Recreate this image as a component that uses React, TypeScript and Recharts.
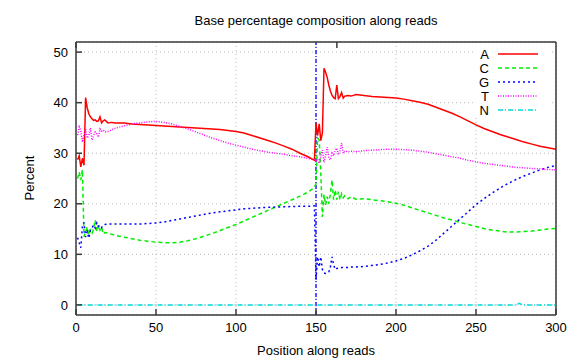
import React from 'react';
import { LineChart, Line, XAxis, YAxis, CartesianGrid, ReferenceLine, Legend } from 'recharts';

// positions along the read (dense where the curves are noisy)
const positions = [
  1, 2, 3, 4, 5, 6, 7, 8, 9, 10, 11, 12, 13, 14, 15, 16, 17, 18, 20, 22, 25,
  30, 35, 40, 45, 50, 55, 60, 65, 70, 75, 80, 85, 90, 95, 100, 105, 110, 115, 120, 125, 130, 135, 140, 145, 149,
  150, 151, 152, 153, 154, 155, 156, 157, 158, 159, 160, 161, 162, 163, 164, 165, 166, 167, 168, 170, 172, 175,
  180, 185, 190, 195, 200, 205, 210, 215, 220, 225, 230, 235, 240, 245, 250, 255, 260, 265, 270, 275, 280, 285, 290, 295, 300,
];

const aValues = [
  28.7, 29.5, 27.3, 29.0, 27.6, 41.0, 39.0, 37.8, 37.2, 36.8, 36.5, 36.6, 36.3, 36.4, 37.2, 36.0, 36.4, 36.6, 36.0, 36.1, 36.0,
  36.0, 35.8, 35.7, 35.6, 35.5, 35.4, 35.3, 35.2, 35.1, 35.0, 34.9, 34.8, 34.7, 34.5, 34.3, 34.0, 33.5, 33.0, 32.5, 32.0, 31.4, 30.8, 30.0, 29.3, 28.6,
  36.0, 33.5, 35.8, 32.5, 34.0, 46.8, 46.0, 45.0, 43.5, 42.3, 41.5, 41.0, 40.8, 43.5, 40.8, 41.2, 42.0, 40.9, 41.3, 41.4, 41.3, 41.6,
  41.4, 41.2, 41.1, 41.0, 40.9, 40.7, 40.4, 40.1, 39.7, 39.1, 38.5, 37.9, 37.2, 36.4, 35.6, 34.9, 34.3, 33.7, 33.2, 32.7, 32.2, 31.8, 31.4, 31.1, 30.8,
];

const cValues = [
  25.0, 26.3, 24.7, 26.7, 13.5, 14.4, 15.4, 13.8, 14.8, 14.2, 15.0, 16.8, 14.5, 15.8, 14.8, 15.4, 14.0, 14.3, 14.2, 14.0, 13.7,
  13.4, 13.1, 12.8, 12.6, 12.4, 12.3, 12.3, 12.4, 12.7, 13.1, 13.6, 14.1, 14.7, 15.3, 15.9, 16.6, 17.3, 18.0, 18.7, 19.4, 20.1, 20.8, 21.5, 22.3, 23.2,
  24.0, 33.0, 32.6, 26.0, 17.4, 21.8, 19.8, 21.4, 20.0, 22.0, 24.7, 20.8, 22.7, 20.8, 22.4, 20.8, 22.0, 21.2, 21.6, 21.0, 21.4, 20.9,
  21.0, 20.8, 20.6, 20.4, 20.1, 19.7, 19.2, 18.7, 18.2, 17.7, 17.2, 16.8, 16.3, 15.9, 15.5, 15.1, 14.8, 14.6, 14.4, 14.4, 14.5, 14.6, 14.8, 15.0, 15.1,
];

const gValues = [
  13.3, 12.3, 11.3, 15.5, 16.3, 13.4, 14.5, 13.2, 14.8, 15.2, 15.8, 15.2, 16.2, 15.5, 15.8, 15.3, 15.8, 15.9, 16.0, 16.0, 16.0,
  16.0, 16.0, 16.0, 16.1, 16.2, 16.4, 16.7, 17.0, 17.3, 17.6, 17.9, 18.2, 18.4, 18.6, 18.8, 19.0, 19.1, 19.2, 19.3, 19.35, 19.4, 19.45, 19.5, 19.5, 19.6,
  5.0, 9.5, 7.5, 9.5, 7.0, 6.3, 6.2, 6.3, 6.5, 7.5, 9.5, 8.0, 7.0, 7.2, 7.3, 7.3, 7.4, 7.4, 7.4, 7.4, 7.5, 7.5,
  7.6, 7.8, 8.0, 8.3, 8.7, 9.2, 9.9, 10.7, 11.6, 12.8, 14.2, 15.6, 17.0, 18.4, 19.8, 21.0, 22.1, 23.1, 24.0, 24.8, 25.5, 26.1, 26.7, 27.2, 27.6,
];

const tValues = [
  33.6, 35.2, 34.5, 32.2, 33.6, 34.8, 33.0, 33.5, 35.0, 32.6, 33.5, 34.2, 33.8, 33.2, 34.8, 34.4, 34.6, 34.2, 34.3, 34.6, 35.0,
  35.4, 35.8, 36.0, 36.2, 36.3, 36.1, 35.8, 35.3, 34.8, 34.2, 33.6, 33.0, 32.5, 32.0, 31.6, 31.2, 30.8, 30.5, 30.2, 30.0, 29.8, 29.5, 29.3, 29.0, 28.7,
  28.5, 28.8, 28.0, 29.5, 30.6, 28.2, 29.5, 31.2, 29.0, 28.7, 30.0, 29.5, 30.5, 31.0, 29.7, 30.5, 32.0, 30.0, 30.4, 30.3, 30.4, 30.3,
  30.5, 30.6, 30.7, 30.8, 30.8, 30.7, 30.6, 30.4, 30.2, 29.9, 29.6, 29.3, 29.0, 28.6, 28.3, 28.0, 27.8, 27.6, 27.4, 27.2, 27.1, 27.0, 26.9, 26.8, 26.7,
];

const nPositions = [1, 275, 277, 279, 300];
const nValues = [0, 0, 0.3, 0, 0];

const xTicks = [0, 50, 100, 150, 200, 250, 300];
const yTicks = [0, 10, 20, 30, 40, 50];

const series = [
  { key: 'A', color: '#ff0000', dash: undefined },
  { key: 'C', color: '#00ee00', dash: '4 3' },
  { key: 'G', color: '#0000ff', dash: '2 3' },
  { key: 'T', color: '#ff00ff', dash: '1 1.5' },
  { key: 'N', color: '#00dddd', dash: '5 2 1 2' },
];

const rows = positions.map((pos, i) => ({
  pos,
  A: aValues[i],
  C: cValues[i],
  G: gValues[i],
  T: tValues[i],
}));

const nRows = nPositions.map((pos, i) => ({ pos, N: nValues[i] }));

const font = '"Liberation Sans", Arial, sans-serif';
const frame = '#3a3a3a';

const renderLegend = () => (
  <svg width={76} height={72}>
    <rect x={0} y={0} width={76} height={72} fill="#fff" />
    {series.map((s, i) => (
      <g key={s.key}>
        <text x={15} y={13 + i * 14} textAnchor="end" fontSize={13} fontFamily={font} fill="#000">
          {s.key}
        </text>
        <line x1={24} x2={64} y1={8 + i * 14} y2={8 + i * 14} stroke={s.color} strokeWidth={1.5} strokeDasharray={s.dash} />
      </g>
    ))}
  </svg>
);

export default function App() {
  return (
    <div style={{ position: 'absolute', left: 0, top: 0, width: 576, height: 360, background: '#fff', fontFamily: font }}>
      <LineChart width={576} height={360} data={rows} margin={{ top: 0, right: 0, bottom: 0, left: 0 }}>
        <CartesianGrid stroke="#b8b8b8" strokeDasharray="1 3" />
        <XAxis
          dataKey="pos"
          type="number"
          domain={[0, 300]}
          ticks={xTicks}
          height={45}
          tickSize={-6}
          tickMargin={14}
          stroke={frame}
          strokeWidth={1.5}
          tick={{ fill: '#000', fontSize: 13, fontFamily: font }}
          allowDuplicatedCategory={false}
        />
        <XAxis
          xAxisId="top"
          orientation="top"
          type="number"
          domain={[0, 300]}
          ticks={xTicks}
          height={42}
          tickSize={-6}
          stroke={frame}
          strokeWidth={1.5}
          tickFormatter={() => ''}
        />
        <YAxis
          domain={[-2, 52]}
          ticks={yTicks}
          width={76}
          tickSize={-6}
          tickMargin={14}
          stroke={frame}
          strokeWidth={1.5}
          tick={{ fill: '#000', fontSize: 13, fontFamily: font }}
        />
        <YAxis
          yAxisId="right"
          orientation="right"
          domain={[-2, 52]}
          ticks={yTicks}
          width={20}
          tickSize={-6}
          stroke={frame}
          strokeWidth={1.5}
          tickFormatter={() => ''}
        />
        <ReferenceLine x={150} stroke="#0000ff" strokeWidth={1.3} strokeDasharray="4 2 1 2" />
        {series.slice(0, 4).map((s) => (
          <Line
            key={s.key}
            type="linear"
            dataKey={s.key}
            stroke={s.color}
            strokeWidth={1.5}
            strokeDasharray={s.dash}
            dot={false}
            isAnimationActive={false}
          />
        ))}
        <Line
          data={nRows}
          type="linear"
          dataKey="N"
          stroke={series[4].color}
          strokeWidth={1.5}
          strokeDasharray={series[4].dash}
          dot={false}
          isAnimationActive={false}
        />
        <Legend
          layout="vertical"
          align="center"
          verticalAlign="middle"
          wrapperStyle={{ left: 474, top: 46, width: 76, height: 72 }}
          content={renderLegend}
        />
      </LineChart>
      <div style={{ position: 'absolute', left: 0, top: 0, width: 576, height: 360, pointerEvents: 'none' }}>
        <svg width={576} height={360}>
          <text x={316} y={25} textAnchor="middle" fontSize={13} fontFamily={font} fill="#000">
            Base percentage composition along reads
          </text>
          <text x={316} y={355} textAnchor="middle" fontSize={13} fontFamily={font} fill="#000">
            Position along reads
          </text>
          <text x={34} y={178} textAnchor="middle" fontSize={13} fontFamily={font} fill="#000" transform="rotate(-90 34 178)">
            Percent
          </text>
        </svg>
      </div>
    </div>
  );
}
